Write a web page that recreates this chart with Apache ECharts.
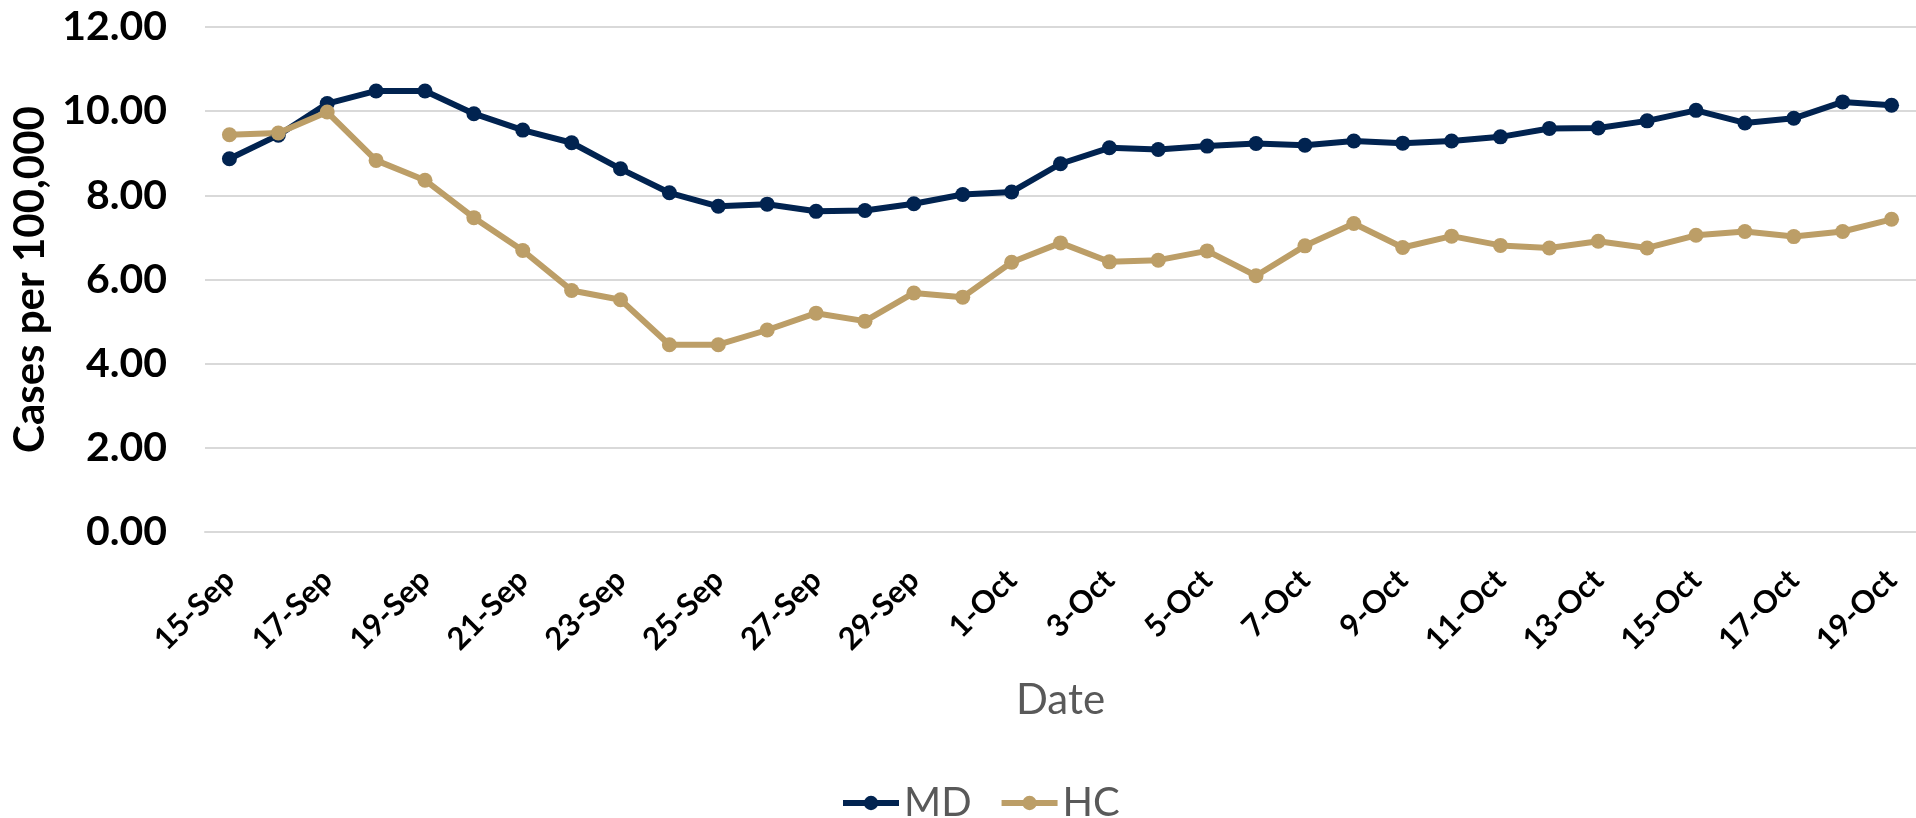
<!DOCTYPE html>
<html>
<head>
<meta charset="utf-8">
<title>Cases per 100,000</title>
<script src="https://cdn.jsdelivr.net/npm/echarts@6/dist/echarts.min.js"></script>
<style>
  html, body { margin: 0; padding: 0; background: #fff; }
  #chart { width: 1916px; height: 818px; }
</style>
</head>
<body>
<div id="chart"></div>
<script>
// dates on the x axis (one per day)
const dateList = [
  '15-Sep', '16-Sep', '17-Sep', '18-Sep', '19-Sep', '20-Sep', '21-Sep', '22-Sep',
  '23-Sep', '24-Sep', '25-Sep', '26-Sep', '27-Sep', '28-Sep', '29-Sep', '30-Sep',
  '1-Oct', '2-Oct', '3-Oct', '4-Oct', '5-Oct', '6-Oct', '7-Oct', '8-Oct', '9-Oct',
  '10-Oct', '11-Oct', '12-Oct', '13-Oct', '14-Oct', '15-Oct', '16-Oct', '17-Oct',
  '18-Oct', '19-Oct'
]
const mdList = [
  8.87, 9.43, 10.18, 10.48, 10.48, 9.94, 9.55, 9.25, 8.63, 8.06,
  7.74, 7.79, 7.62, 7.64, 7.80, 8.02,
  8.08, 8.75, 9.13, 9.09, 9.17, 9.23, 9.19, 9.29, 9.24, 9.29,
  9.39, 9.59, 9.60, 9.77, 10.02, 9.72, 9.83, 10.22, 10.14
]
const hcList = [
  9.44, 9.48, 9.98, 8.83, 8.36, 7.47, 6.69, 5.74, 5.52, 4.45,
  4.45, 4.80, 5.20, 5.01, 5.68, 5.58,
  6.41, 6.87, 6.42, 6.46, 6.68, 6.09, 6.80, 7.33, 6.76, 7.03,
  6.81, 6.75, 6.91, 6.75, 7.05, 7.14, 7.02, 7.14, 7.43
]
const seriesNames = ['MD', 'HC']

const chart = echarts.init(document.getElementById('chart'))

const option = {
  animation: false,
  textStyle: { fontFamily: 'Lato' },
  grid: {
    left: 205,
    right: -11,
    top: 27,
    bottom: 286
  },
  legend: {
    data: seriesNames,
    left: 835,
    top: 778,
    itemWidth: 56,
    itemHeight: 18,
    itemGap: 27,
    lineStyle: { width: 6 },
    textStyle: { fontSize: 40, color: '#595959', fontFamily: 'Lato' }
  },
  xAxis: {
    type: 'category',
    data: dateList,
    name: 'Date',
    nameLocation: 'middle',
    nameGap: 147,
    nameTextStyle: { fontSize: 42, color: '#595959', fontFamily: 'Lato' },
    axisLine: { lineStyle: { color: '#D9D9D9', width: 2 } },
    axisTick: { interval: 1, length: 11, lineStyle: { color: '#D9D9D9', width: 2 } },
    axisLabel: {
      interval: 1,
      rotate: 45,
      margin: 43,
      color: '#000',
      fontWeight: 'bold',
      fontSize: 31,
      fontFamily: 'Lato'
    }
  },
  yAxis: {
    type: 'value',
    min: 0,
    max: 12,
    interval: 2,
    name: 'Cases per 100,000',
    nameLocation: 'middle',
    nameGap: 152,
    nameTextStyle: { fontSize: 42, fontWeight: 'bold', color: '#000', fontFamily: 'Lato' },
    axisLine: { show: false },
    axisTick: { show: false },
    splitLine: { lineStyle: { color: '#D9D9D9', width: 2 } },
    axisLabel: {
      margin: 38,
      color: '#000',
      fontWeight: 'bold',
      fontSize: 41,
      fontFamily: 'Lato',
      formatter: v => v.toFixed(2)
    }
  },
  series: [
    {
      name: 'MD',
      type: 'line',
      data: mdList,
      symbol: 'circle',
      symbolSize: 15,
      color: '#012350',
      lineStyle: { width: 6, color: '#012350' }
    },
    {
      name: 'HC',
      type: 'line',
      data: hcList,
      symbol: 'circle',
      symbolSize: 15,
      color: '#BC9E67',
      lineStyle: { width: 6, color: '#BC9E67' }
    }
  ]
}

chart.setOption(option)
</script>
</body>
</html>
